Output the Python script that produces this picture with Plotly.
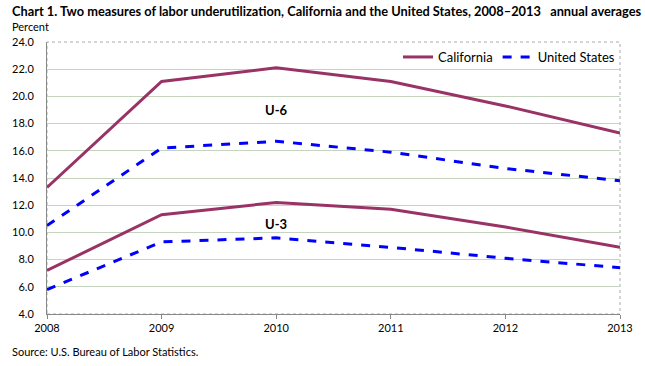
import plotly.graph_objects as go

years = [2008, 2009, 2010, 2011, 2012, 2013]
ca_u6 = [13.3, 21.1, 22.1, 21.1, 19.3, 17.3]
us_u6 = [10.5, 16.2, 16.7, 15.9, 14.7, 13.8]
ca_u3 = [7.2, 11.3, 12.2, 11.7, 10.4, 8.9]
us_u3 = [5.8, 9.3, 9.6, 8.9, 8.1, 7.4]
y_ticks = [4, 6, 8, 10, 12, 14, 16, 18, 20, 22, 24]
y_tick_labels = [f"{v:.1f}" for v in y_ticks]

FONT = "Lato, Open Sans, sans-serif"
CA_COLOR = "#993366"
US_COLOR = "#0000FF"

fig = go.Figure()
fig.add_trace(go.Scatter(x=years, y=ca_u6, mode="lines", name="California",
                         line=dict(color=CA_COLOR, width=3)))
fig.add_trace(go.Scatter(x=years, y=us_u6, mode="lines", name="United States",
                         line=dict(color=US_COLOR, width=3, dash="dash")))
fig.add_trace(go.Scatter(x=years, y=ca_u3, mode="lines", name="California",
                         line=dict(color=CA_COLOR, width=3), showlegend=False))
fig.add_trace(go.Scatter(x=years, y=us_u3, mode="lines", name="United States",
                         line=dict(color=US_COLOR, width=3, dash="dash"), showlegend=False))

fig.update_layout(
    width=645, height=366,
    margin=dict(l=42, r=21, t=42, b=52),
    paper_bgcolor="white", plot_bgcolor="white",
    font=dict(family=FONT, size=12, color="black"),
    showlegend=True,
    legend=dict(orientation="h", x=1, xanchor="right", y=1, yanchor="top",
                bgcolor="rgba(0,0,0,0)", font=dict(size=13, family=FONT),
                itemwidth=30, tracegroupgap=0),
    xaxis=dict(range=[2008, 2013], tickmode="array", tickvals=years,
               ticktext=[str(y) for y in years], showgrid=False, zeroline=False,
               showline=True, linecolor="#888888", linewidth=1,
               ticks="outside", ticklen=4, tickcolor="#888888",
               mirror=False, tickfont=dict(size=11)),
    yaxis=dict(range=[4, 24], tickmode="array", tickvals=y_ticks, ticktext=y_tick_labels,
               showgrid=True, gridcolor="#C4D4BE", gridwidth=1, zeroline=False,
               showline=True, linecolor="#888888", linewidth=1, ticks="",
               ticklabelstandoff=10, tickfont=dict(size=11)),
    shapes=[dict(type="rect", xref="paper", yref="paper", x0=0, x1=1, y0=0, y1=1,
                 line=dict(color="#AAAAAA", width=1, dash="dot"), layer="below")],
    annotations=[
        dict(text="<b>Chart 1. Two measures of labor underutilization, California and the United States, 2008–2013   annual averages</b>",
             xref="paper", yref="paper", x=-0.064, y=1.115, xanchor="left", yanchor="middle",
             showarrow=False, font=dict(size=12.8, family=FONT)),
        dict(text="Percent", xref="paper", yref="paper", x=-0.064, y=1.058,
             xanchor="left", yanchor="middle", showarrow=False, font=dict(size=11, family=FONT)),
        dict(text="<b>U-6</b>", x=2010, y=19.0, xref="x", yref="y", showarrow=False,
             font=dict(size=13, family=FONT)),
        dict(text="<b>U-3</b>", x=2010, y=10.6, xref="x", yref="y", showarrow=False,
             font=dict(size=13, family=FONT)),
        dict(text="Source: U.S. Bureau of Labor Statistics.", xref="paper", yref="paper",
             x=-0.064, y=-0.105, xanchor="left", yanchor="top", showarrow=False,
             font=dict(size=11, family=FONT)),
    ],
)

fig.write_html("out.html", config={"displayModeBar": False},
               post_script="document.body.style.margin='0';")
